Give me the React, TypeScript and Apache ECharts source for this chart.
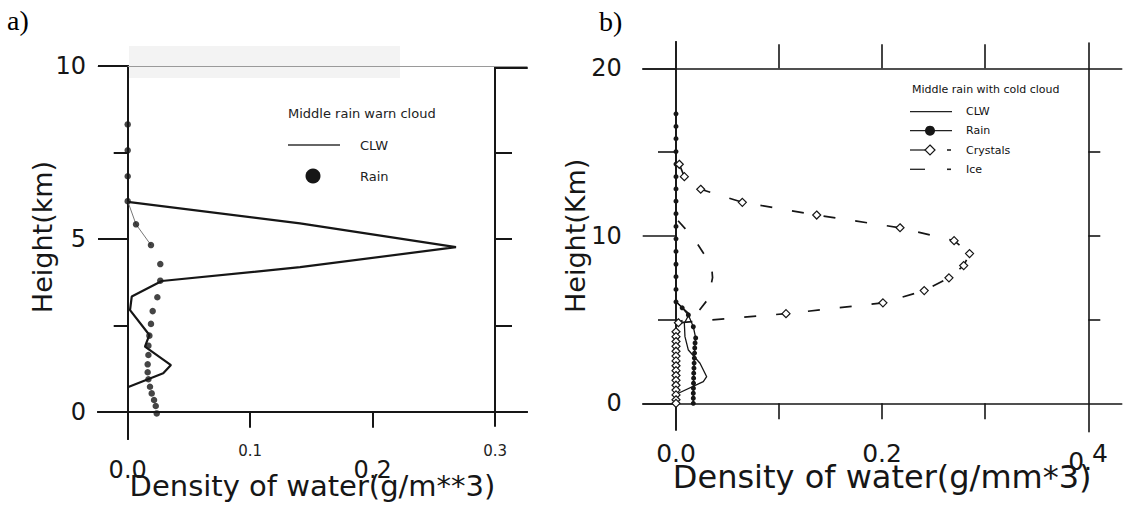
import React, { useEffect, useRef } from "react";
import * as echarts from "echarts";

// ---------- Panel a: middle rain, warm cloud  [density g/m**3, height km]
const clwA: [number, number][] = [
  [0, 6.07], [0.1407, 5.45], [0.268, 4.76], [0.1407, 4.18], [0.0278, 3.78],
  [0.0033, 3.33], [0.0019, 2.94], [0.0177, 2.22], [0.0141, 1.88],
  [0.0353, 1.35], [0.029, 1.11], [0, 0.71],
];
const rainA: [number, number][] = [
  [0, 8.31], [0, 7.56], [0, 6.81], [0, 6.09], [0.0068, 5.42], [0.019, 4.82],
  [0.0266, 4.27], [0.0266, 3.79], [0.0242, 3.31], [0.0204, 2.91], [0.019, 2.54],
  [0.0177, 2.2], [0.0169, 1.91], [0.0169, 1.64], [0.0163, 1.37], [0.0163, 1.14],
  [0.0169, 0.94], [0.0182, 0.72], [0.0196, 0.53], [0.0215, 0.34], [0.0229, 0.165],
  [0.0237, -0.05],
];

// ---------- Panel b: middle rain with cold cloud
const clwB: [number, number][] = [
  [0, 6.07], [0.0129, 5.33], [0.0081, 4.78], [0.0087, 3.98], [0.012, 3.18],
  [0.0233, 2.39], [0.0298, 1.59], [0.0265, 1.29], [0.0023, 0.6], [0, 0.4],
];
const rainB: [number, number][] = [
  [0, 17.28], [0, 16.53], [0, 15.8], [0, 15.03], [0, 14.28], [0, 13.53],
  [0, 12.8], [0, 12.07], [0, 11.32], [0, 10.56], [0, 9.82], [0, 9.07],
  [0, 8.3], [0, 7.56], [0, 6.8], [0, 6.06], [0.006, 5.7], [0.012, 5.27],
  [0.0168, 4.57], [0.0191, 3.9], [0.0185, 3.6], [0.0182, 3.3], [0.018, 3.0],
  [0.0178, 2.7], [0.0176, 2.4], [0.0174, 2.1], [0.0172, 1.8], [0.0171, 1.5],
  [0.017, 1.2], [0.0169, 0.9], [0.0168, 0.6], [0.0168, 0.3], [0.0168, 0.0],
];
const crystalsB: [number, number][] = [
  [0.0032, 14.27], [0.0081, 13.53], [0.024, 12.78], [0.0644, 12.0],
  [0.1366, 11.24], [0.2175, 10.48], [0.27, 9.71], [0.285, 8.94],
  [0.2793, 8.22], [0.265, 7.49], [0.241, 6.73], [0.2009, 6.0],
  [0.1068, 5.35], [0.0023, 4.81], [0, 4.27], [0, 3.98], [0, 3.69], [0, 3.4],
  [0, 3.11], [0, 2.82], [0, 2.53], [0, 2.24], [0, 1.95], [0, 1.66], [0, 1.37],
  [0, 1.08], [0, 0.79], [0, 0.5], [0, 0.21], [0, 0.0],
];
const iceB: [number, number][] = [
  [0.002, 10.9], [0.0129, 10.15], [0.0194, 9.65], [0.0298, 8.66],
  [0.0346, 8.16], [0.0355, 7.5], [0.0337, 6.96], [0.0317, 6.27],
  [0.022, 5.5], [0.013, 5.17], [0.005, 4.9],
];

// ---------- ticks / labels
const xTicksA = [0.1, 0.2];
const xLabelsBigA = [0, 0.2];
const xLabelsSmallA = [0.1, 0.3];
const yMajorA = [0, 5, 10];
const yMinorA = [2.5, 7.5];
const yRightTicksA = [2.5, 5, 7.5];
const xTicksB = [0.1, 0.2, 0.3];
const xLabelsB = [0, 0.2, 0.4];
const yMajorB = [0, 10, 20];
const yMinorB = [5, 15];
const yRightTicksB = [5, 10, 15];

const FONT = "DejaVu Sans";
const INK = "#161616";

// pixel scales of each panel (origin px and px per unit)
const SA = { x0: 127.7, kx: 1225, y0: 411.7, ky: 34.57 };
const SB = { x0: 676, kx: 1030, y0: 403.3, ky: 16.75 };

function frame(s: typeof SA, left: number, right: number, top: number, bottom: number) {
  return {
    grid: {
      left, top, width: right - left, height: bottom - top,
      containLabel: false, outerBoundsMode: "none",
    },
    xMin: (left - s.x0) / s.kx,
    xMax: (right - s.x0) / s.kx,
    yMin: (s.y0 - bottom) / s.ky,
    yMax: (s.y0 - top) / s.ky,
  };
}

const gA = frame(SA, 98, 527, 66, 439);
const gAR = frame(SA, 495, 527, 67.7, 426);
const gB = frame(SB, 642.7, 1121.7, 41.7, 430);
const gBT = frame(SB, 642.7, 1121.7, 68.3, 100);
const gBR = frame(SB, 1088.3, 1121.7, 43, 431.7);

const lineSt = (w: number, c = INK) => ({ color: c, width: w });

export default function App() {
  const ref = useRef<HTMLDivElement>(null);
  useEffect(() => {
    if (!ref.current) return;
    const chart = echarts.init(ref.current, undefined, { renderer: "svg" });
    const noSplit = { show: false };
    const option: any = {
      animation: false,
      backgroundColor: "#ffffff",
      grid: [gA.grid, gAR.grid, gB.grid, gBT.grid, gBR.grid],
      xAxis: [
        {
          type: "value", gridIndex: 0, min: gA.xMin, max: gA.xMax, position: "bottom",
          axisLine: { show: true, onZero: true, onZeroAxisIndex: 0, lineStyle: lineSt(2) },
          axisTick: { show: true, customValues: xTicksA, length: 16, lineStyle: lineSt(2) },
          axisLabel: {
            show: true, customValues: xLabelsBigA, formatter: (v: number) => v.toFixed(1),
            fontSize: 24, fontFamily: FONT, color: INK, margin: 19,
          },
          splitLine: noSplit,
          name: "Density of water(g/m**3)", nameLocation: "middle", nameGap: 32,
          nameMoveOverlap: false,
          nameTextStyle: { fontSize: 29, fontFamily: FONT, color: INK },
        },
        {
          type: "value", gridIndex: 0, min: gA.xMin, max: gA.xMax, position: "bottom",
          axisLine: { show: true, onZero: true, onZeroAxisIndex: 1, lineStyle: lineSt(2) },
          axisTick: { show: false },
          axisLabel: {
            show: true, customValues: xLabelsSmallA, formatter: (v: number) => v.toFixed(1),
            fontSize: 15, fontFamily: FONT, color: "#222", margin: 4,
          },
          splitLine: noSplit,
        },
        {
          type: "value", gridIndex: 0, min: gA.xMin, max: gA.xMax, position: "top",
          axisLine: { show: true, onZero: false, lineStyle: lineSt(1.2, "#9a9a9a") },
          axisTick: { show: false }, axisLabel: { show: false }, splitLine: noSplit,
        },
        {
          type: "value", gridIndex: 1, min: gAR.xMin, max: gAR.xMax, position: "top",
          axisLine: { show: true, onZero: false, lineStyle: lineSt(2) },
          axisTick: { show: false }, axisLabel: { show: false }, splitLine: noSplit,
        },
        {
          type: "value", gridIndex: 2, min: gB.xMin, max: gB.xMax, position: "bottom",
          axisLine: { show: true, onZero: true, onZeroAxisIndex: 3, lineStyle: lineSt(1.6) },
          axisTick: { show: true, customValues: xTicksB, length: 16, lineStyle: lineSt(1.6) },
          axisLabel: {
            show: true, customValues: xLabelsB,
            formatter: (v: number) => (v === 0.4 ? "{n|0.}{s|4}" : v.toFixed(1)),
            fontSize: 25, fontFamily: FONT, color: INK, margin: 11,
            rich: {
              n: { fontSize: 25, fontFamily: FONT, color: INK },
              s: { fontSize: 25, fontFamily: FONT, color: INK, padding: [0, 0, 16, 0] },
            },
          },
          splitLine: noSplit,
          name: "Density of water(g/mm*3)", nameLocation: "middle", nameGap: 31,
          nameMoveOverlap: false,
          nameTextStyle: { fontSize: 32, fontFamily: FONT, color: INK },
        },
        {
          type: "value", gridIndex: 3, min: gBT.xMin, max: gBT.xMax, position: "top",
          axisLine: { show: true, onZero: false, lineStyle: lineSt(1.6) },
          axisTick: { show: true, customValues: xTicksB, length: 24, lineStyle: lineSt(1.6) },
          axisLabel: { show: false }, splitLine: noSplit,
        },
        {
          type: "value", gridIndex: 4, min: gBR.xMin, max: gBR.xMax, show: false,
        },
      ],
      yAxis: [
        {
          type: "value", gridIndex: 0, min: gA.yMin, max: gA.yMax, position: "left",
          axisLine: { show: true, onZero: true, onZeroAxisIndex: 0, lineStyle: lineSt(2) },
          axisTick: { show: true, customValues: yMajorA, length: 29.7, lineStyle: lineSt(2) },
          axisLabel: {
            show: true, customValues: yMajorA, fontSize: 24, fontFamily: FONT, color: INK, margin: 12,
          },
          splitLine: noSplit,
          name: "Height(km)", nameLocation: "middle", nameGap: 42, nameRotate: 90,
          nameMoveOverlap: false,
          nameTextStyle: { fontSize: 27, fontFamily: FONT, color: INK, padding: [0, 0, 0, 31] },
        },
        {
          type: "value", gridIndex: 0, min: gA.yMin, max: gA.yMax, position: "left",
          axisLine: { show: true, onZero: true, onZeroAxisIndex: 1, lineStyle: lineSt(2) },
          axisTick: { show: true, customValues: yMinorA, length: 14, lineStyle: lineSt(2) },
          axisLabel: { show: false }, splitLine: noSplit,
        },
        {
          type: "value", gridIndex: 1, min: gAR.yMin, max: gAR.yMax, position: "left",
          axisLine: { show: true, onZero: false, lineStyle: lineSt(2) },
          axisTick: { show: true, inside: true, customValues: yRightTicksA, length: 17, lineStyle: lineSt(2) },
          axisLabel: { show: false }, splitLine: noSplit,
        },
        {
          type: "value", gridIndex: 2, min: gB.yMin, max: gB.yMax, position: "left",
          axisLine: { show: true, onZero: true, onZeroAxisIndex: 4, lineStyle: lineSt(1.6) },
          axisTick: { show: true, customValues: yMajorB, length: 33.3, lineStyle: lineSt(1.6) },
          axisLabel: {
            show: true, customValues: yMajorB, fontSize: 24, fontFamily: FONT, color: INK, margin: 21,
          },
          splitLine: noSplit,
          name: "Height(Km)", nameLocation: "middle", nameGap: 54, nameRotate: 90,
          nameMoveOverlap: false,
          nameTextStyle: { fontSize: 27, fontFamily: FONT, color: INK },
        },
        {
          type: "value", gridIndex: 2, min: gB.yMin, max: gB.yMax, position: "left",
          axisLine: { show: true, onZero: true, onZeroAxisIndex: 4, lineStyle: lineSt(1.6) },
          axisTick: { show: true, customValues: yMinorB, length: 18, lineStyle: lineSt(1.6) },
          axisLabel: { show: false }, splitLine: noSplit,
        },
        {
          type: "value", gridIndex: 3, min: 0, max: 1, show: false,
        },
        {
          type: "value", gridIndex: 4, min: gBR.yMin, max: gBR.yMax, position: "left",
          axisLine: { show: true, onZero: false, lineStyle: lineSt(1.6) },
          axisTick: { show: true, inside: true, customValues: yRightTicksB, length: 12, lineStyle: lineSt(1.6) },
          axisLabel: { show: false }, splitLine: noSplit,
        },
      ],
      series: [
        {
          type: "line", name: "CLW", xAxisIndex: 0, yAxisIndex: 0, data: clwA,
          symbol: "none", lineStyle: { color: INK, width: 2.2 }, silent: true, z: 3,
        },
        {
          type: "line", name: "Rain link", xAxisIndex: 0, yAxisIndex: 0, data: rainA.slice(3, 6),
          symbol: "none", lineStyle: { color: "#777", width: 1 }, silent: true,
        },
        {
          type: "scatter", name: "Rain", xAxisIndex: 0, yAxisIndex: 0, data: rainA,
          symbol: "circle", symbolSize: 6.5, itemStyle: { color: INK }, silent: true, z: 4,
        },
        {
          type: "line", name: "CLW", xAxisIndex: 4, yAxisIndex: 3, data: clwB,
          symbol: "none", lineStyle: { color: INK, width: 1.3 }, silent: true,
        },
        {
          type: "line", name: "Rain", xAxisIndex: 4, yAxisIndex: 3, data: rainB,
          symbol: "circle", symbolSize: 5, showSymbol: true, itemStyle: { color: INK },
          lineStyle: { color: INK, width: 1.3 }, silent: true,
        },
        {
          type: "line", name: "Crystals", xAxisIndex: 4, yAxisIndex: 3, data: crystalsB,
          symbol: "diamond", symbolSize: 8, showSymbol: true,
          itemStyle: { color: "#ffffff", borderColor: INK, borderWidth: 1.2 },
          lineStyle: { color: INK, width: 1.7, type: [12, 20] }, silent: true,
        },
        {
          type: "line", name: "Ice", xAxisIndex: 4, yAxisIndex: 3, data: iceB,
          symbol: "none", lineStyle: { color: INK, width: 1.7, type: [11, 20] }, silent: true,
        },
      ],
      graphic: [
        { type: "rect", z: -10, silent: true, shape: { x: 129, y: 46, width: 271, height: 32 }, style: { fill: "#f3f3f3" } },
        { type: "text", x: 7, y: 20, style: { text: "a)", fontSize: 28, fontFamily: "Liberation Serif", fill: "#000", verticalAlign: "middle" } },
        { type: "text", x: 599, y: 21, style: { text: "b)", fontSize: 28, fontFamily: "Liberation Serif", fill: "#000", verticalAlign: "middle" } },
        // legend a
        { type: "text", x: 288, y: 113, style: { text: "Middle rain warn cloud", fontSize: 13, fontFamily: FONT, fill: "#222", verticalAlign: "middle" } },
        { type: "line", shape: { x1: 288, y1: 145, x2: 340, y2: 145 }, style: { stroke: "#333", lineWidth: 1.5 } },
        { type: "text", x: 360, y: 145, style: { text: "CLW", fontSize: 13, fontFamily: FONT, fill: "#222", verticalAlign: "middle" } },
        { type: "circle", shape: { cx: 313, cy: 176, r: 7.5 }, style: { fill: INK } },
        { type: "text", x: 360, y: 176, style: { text: "Rain", fontSize: 13, fontFamily: FONT, fill: "#222", verticalAlign: "middle" } },
        // legend b
        { type: "text", x: 912, y: 89, style: { text: "Middle rain with cold cloud", fontSize: 11, fontFamily: FONT, fill: "#111", verticalAlign: "middle" } },
        { type: "line", shape: { x1: 910, y1: 111.7, x2: 952, y2: 111.7 }, style: { stroke: "#222", lineWidth: 1.3 } },
        { type: "text", x: 966, y: 111.7, style: { text: "CLW", fontSize: 11, fontFamily: FONT, fill: "#111", verticalAlign: "middle" } },
        { type: "line", shape: { x1: 910, y1: 130.7, x2: 952, y2: 130.7 }, style: { stroke: "#222", lineWidth: 1.3 } },
        { type: "circle", shape: { cx: 930, cy: 130.7, r: 5 }, style: { fill: INK } },
        { type: "text", x: 966, y: 130.7, style: { text: "Rain", fontSize: 11, fontFamily: FONT, fill: "#111", verticalAlign: "middle" } },
        { type: "line", shape: { x1: 910, y1: 150, x2: 925, y2: 150 }, style: { stroke: "#222", lineWidth: 1.3 } },
        { type: "polygon", shape: { points: [[930, 145], [935, 150], [930, 155], [925, 150]] }, style: { fill: "#fff", stroke: INK, lineWidth: 1.2 } },
        { type: "line", shape: { x1: 947, y1: 150, x2: 951, y2: 150 }, style: { stroke: "#222", lineWidth: 1.6 } },
        { type: "text", x: 966, y: 150, style: { text: "Crystals", fontSize: 11, fontFamily: FONT, fill: "#111", verticalAlign: "middle" } },
        { type: "line", shape: { x1: 910, y1: 169.3, x2: 925, y2: 169.3 }, style: { stroke: "#222", lineWidth: 1.3 } },
        { type: "line", shape: { x1: 947, y1: 169.3, x2: 951, y2: 169.3 }, style: { stroke: "#222", lineWidth: 1.6 } },
        { type: "text", x: 966, y: 169.3, style: { text: "Ice", fontSize: 11, fontFamily: FONT, fill: "#111", verticalAlign: "middle" } },
      ],
    };
    chart.setOption(option);
    return () => chart.dispose();
  }, []);
  return (
    <div
      ref={ref}
      style={{ position: "fixed", left: 0, top: 0, width: 1130, height: 508, background: "#fff" }}
    />
  );
}
